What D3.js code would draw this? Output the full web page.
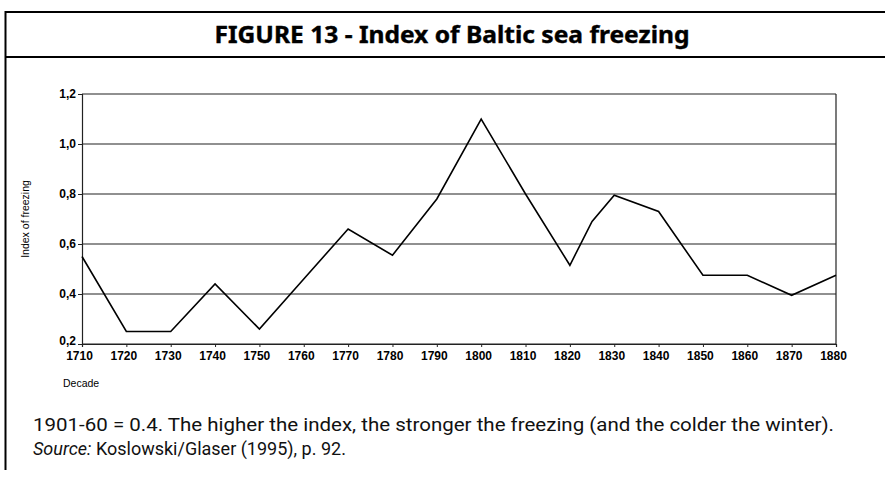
<!DOCTYPE html>
<html>
<head>
<meta charset="utf-8">
<script src="https://cdn.jsdelivr.net/npm/d3@7"></script>
<style>
  body { margin: 0; background: #fff; }
  svg { display: block; }
</style>
</head>
<body>
<svg id="chart" width="885" height="477"></svg>
<script>
// Data
const decades = [1710, 1720, 1730, 1740, 1750, 1760, 1770, 1780, 1790, 1800, 1810, 1820, 1825, 1830, 1840, 1850, 1860, 1870, 1880];
const freezing = [0.55, 0.25, 0.25, 0.44, 0.26, 0.46, 0.66, 0.555, 0.78, 1.10, 0.80, 0.515, 0.69, 0.795, 0.73, 0.475, 0.475, 0.395, 0.475];
const xTicks = d3.range(1710, 1881, 10);
const yTicks = [0.2, 0.4, 0.6, 0.8, 1.0, 1.2];

const titleText = "FIGURE 13 - Index of Baltic sea freezing";
const noteText = "1901-60 = 0.4. The higher the index, the stronger the freezing (and the colder the winter).";

const svg = d3.select("#chart");

// Frame: left rule and the two rules around the title
svg.append("line").attr("x1", 5).attr("x2", 885).attr("y1", 12).attr("y2", 12)
  .attr("stroke", "#000").attr("stroke-width", 2);
svg.append("line").attr("x1", 5).attr("x2", 885).attr("y1", 57).attr("y2", 57)
  .attr("stroke", "#000").attr("stroke-width", 2);
svg.append("line").attr("x1", 5.5).attr("x2", 5.5).attr("y1", 11).attr("y2", 470)
  .attr("stroke", "#000").attr("stroke-width", 2);

// Title
svg.append("text")
  .attr("x", 452).attr("y", 43)
  .attr("text-anchor", "middle")
  .attr("font-family", "'Noto Sans', 'DejaVu Sans Condensed', sans-serif")
  .attr("font-weight", "bold")
  .attr("font-size", "23px")
  .attr("stroke", "#000")
  .attr("stroke-width", 0.4)
  .attr("textLength", 475)
  .attr("lengthAdjust", "spacingAndGlyphs")
  .text(titleText);

// Plot area
const plotLeft = 82, plotRight = 836, plotTop = 94, plotBottom = 344;
const x = d3.scaleLinear().domain([1710, 1880]).range([plotLeft, plotRight]);
const y = d3.scaleLinear().domain([0.2, 1.2]).range([plotBottom, plotTop]);

// Horizontal grid lines
svg.append("g")
  .selectAll("line")
  .data(yTicks)
  .enter()
  .append("line")
  .attr("x1", plotLeft).attr("x2", plotRight)
  .attr("y1", d => y(d)).attr("y2", d => y(d))
  .attr("stroke", "#222").attr("stroke-width", 1.2);

// Right border of the plot
svg.append("line")
  .attr("x1", plotRight).attr("x2", plotRight).attr("y1", plotTop).attr("y2", plotBottom)
  .attr("stroke", "#222").attr("stroke-width", 1.2);

// Y axis
const yAxis = d3.axisLeft(y).tickValues(yTicks).tickSize(4)
  .tickFormat(d => d3.format(".1f")(d).replace(".", ","));
const gy = svg.append("g").attr("transform", "translate(" + plotLeft + ",0)").call(yAxis);
gy.select(".domain").attr("stroke", "#222").attr("stroke-width", 1.2);
gy.selectAll(".tick line").attr("stroke", "#222");
gy.selectAll(".tick text")
  .attr("font-family", "'Liberation Sans', Arial, sans-serif")
  .attr("font-weight", "bold")
  .attr("font-size", "12px")
  .attr("fill", "#000")
  .attr("x", -6)
  .attr("dy", d => d === 0.2 ? "0.05em" : "0.32em");

// X axis
const xAxis = d3.axisBottom(x).tickValues(xTicks).tickSize(3).tickFormat(d3.format("d"));
const gx = svg.append("g").attr("transform", "translate(0," + plotBottom + ")").call(xAxis);
gx.select(".domain").attr("stroke", "#222").attr("stroke-width", 1.2);
gx.selectAll(".tick line").attr("stroke", "#222");
gx.selectAll(".tick text")
  .attr("font-family", "'Liberation Sans', Arial, sans-serif")
  .attr("font-weight", "bold")
  .attr("font-size", "12px")
  .attr("fill", "#000")
  .attr("dx", "-3")
  .attr("y", 7);

// Axis titles
svg.append("text")
  .attr("x", 63).attr("y", 387)
  .attr("font-family", "'Liberation Sans', Arial, sans-serif")
  .attr("font-size", "10.5px")
  .text("Decade");
svg.append("text")
  .attr("transform", "translate(29," + ((plotTop + plotBottom) / 2) + ") rotate(-90)")
  .attr("text-anchor", "middle")
  .attr("font-family", "'Liberation Sans', Arial, sans-serif")
  .attr("font-size", "10.5px")
  .text("Index of freezing");

// Series line
const line = d3.line()
  .x((d, i) => x(decades[i]))
  .y(d => y(d));
svg.append("path")
  .datum(freezing)
  .attr("d", line)
  .attr("fill", "none")
  .attr("stroke", "#000")
  .attr("stroke-width", 1.6);

// Note and source
const note = svg.append("g")
  .attr("font-family", "Roboto, sans-serif")
  .attr("font-size", "18px")
  .attr("fill", "#111");
note.append("text").attr("x", 33).attr("y", 431)
  .attr("textLength", 801)
  .attr("lengthAdjust", "spacingAndGlyphs")
  .text(noteText);
const src = note.append("text").attr("x", 33).attr("y", 455);
src.append("tspan").attr("font-style", "italic").text("Source:");
src.append("tspan").text(" Koslowski/Glaser (1995), p. 92.");
</script>
</body>
</html>
